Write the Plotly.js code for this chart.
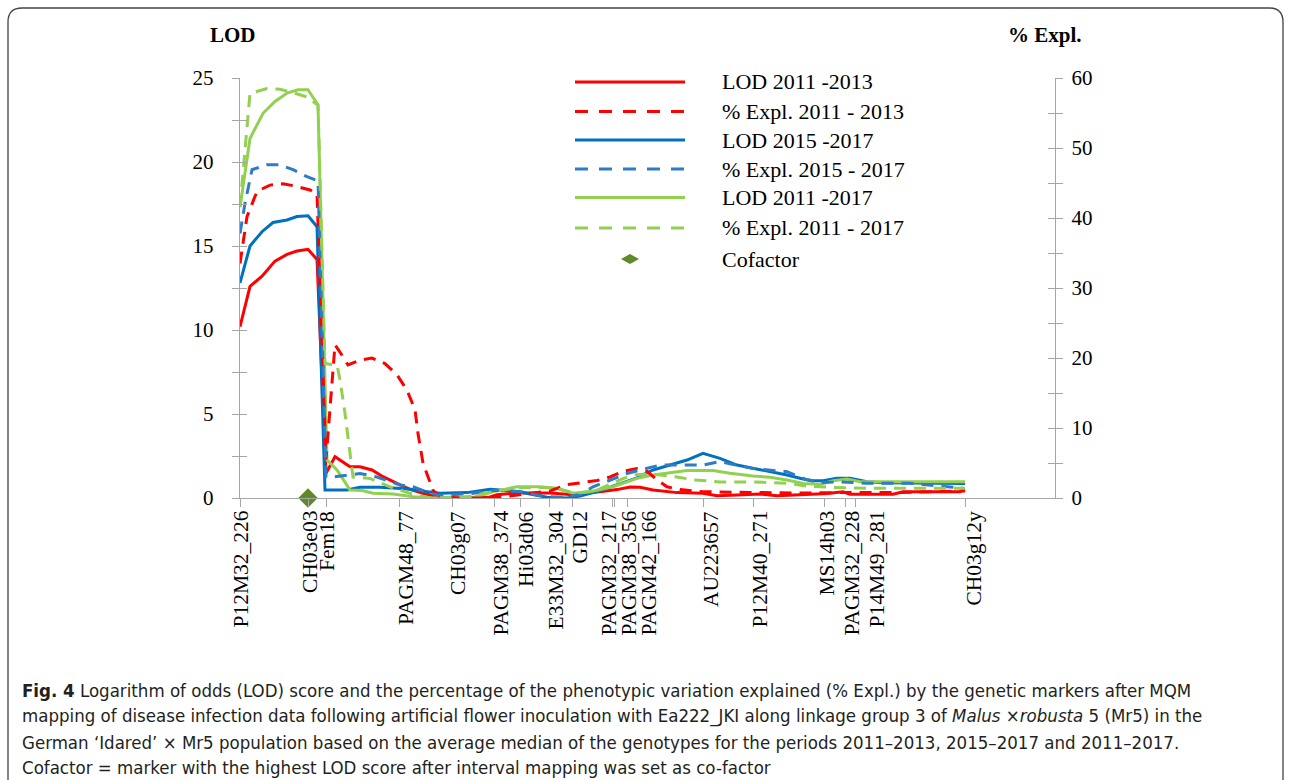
<!DOCTYPE html>
<html>
<head>
<meta charset="utf-8">
<script src="https://cdn.plot.ly/plotly-3.0.1.min.js"></script>
<style>
  html, body { margin: 0; padding: 0; background: #ffffff; }
  #chart { width: 1290px; height: 780px; }
</style>
</head>
<body>
<div id="chart"></div>
<script>
// ---------------- DATA ----------------
// Marker names and their map positions (arbitrary map units along linkage group 3)
const markerNames = ['P12M32_226','CH03e03','Fem18','PAGM48_77','CH03g07','PAGM38_374','Hi03d06',
  'E33M32_304','GD12','PAGM32_217','PAGM38_356','PAGM42_166','AU223657','P12M40_271',
  'MS14h03','PAGM32_228','P14M49_281','CH03g12y'];
const markerPos = [0, 6.8, 8.6, 15.9, 21.2, 25.4, 28.0, 30.9, 33.2, 37.2, 37.4, 38.7, 46.3, 51.3,
  58.4, 60.5, 61.5, 72.5];

// LOD 2011-2013
const lod1113X = [0,1.0,2.2,3.5,4.7,5.7,6.8,7.7,8.6,9.5,11.0,12.0,13.2,14.3,15.7,17.0,18.3,19.7,20.7,22.6,
  25.0,25.7,27.7,29.7,31.0,33.3,34.3,36.0,37.7,39.0,40.0,41.3,43.7,46.3,47.7,49.7,52.0,53.7,56.3,57.7,
  58.7,60.3,61.0,65.3,66.3,72.0,72.5];
const lod1113Y = [10.2,12.6,13.2,14.1,14.5,14.7,14.8,14.2,1.47,2.46,1.86,1.86,1.67,1.27,0.87,0.52,0.28,0.08,0,0,
  0.06,0.2,0.3,0.32,0.3,0.2,0.3,0.37,0.5,0.65,0.64,0.48,0.32,0.28,0.14,0.18,0.24,0.14,0.18,0.24,
  0.27,0.37,0.22,0.22,0.37,0.37,0.52];

// % Expl. 2011-2013
const expl1113X = [0,0.7,1.7,3.0,4.3,5.7,7.0,7.7,8.6,9.5,10.2,10.8,12.0,13.2,14.5,15.7,16.7,17.5,17.8,18.3,
  19.3,20.0,22.0,25.0,27.0,29.0,31.0,32.7,34.0,35.7,37.0,38.3,39.7,40.7,41.7,42.7,44.0,46.3,51.0,56.0,
  61.0,66.0,72.5];
const expl1113Y = [33.5,40.2,43.8,44.7,44.9,44.5,44.0,43.5,5.5,21.9,20.4,19.0,19.7,20.0,19.2,17.6,15.4,12.6,9.2,5.0,
  1.1,0.2,0,0,0.3,0.6,1.0,1.9,2.2,2.5,3.0,3.8,4.2,3.8,2.6,1.6,1.2,0.9,0.8,0.7,
  0.8,0.8,1.0];

// LOD 2015-2017
const lod1517X = [0,1.0,2.2,3.3,4.7,5.7,6.8,7.7,8.5,10.7,12.0,14.0,15.7,17.0,18.7,20.0,22.7,25.0,27.0,28.0,
  29.0,30.7,32.7,34.0,36.0,38.0,39.7,41.3,43.0,44.7,46.3,48.0,49.7,51.3,53.0,54.7,56.3,57.3,58.3,59.7,
  61.0,62.7,64.3,69.3,72.5];
const lod1517Y = [12.8,15.0,15.85,16.4,16.55,16.75,16.8,16.15,0.48,0.48,0.64,0.64,0.58,0.52,0.38,0.28,0.32,0.52,0.43,0.37,
  0.24,0.04,0,0.12,0.43,0.85,1.2,1.67,1.96,2.26,2.66,2.36,1.96,1.77,1.57,1.37,1.13,1.03,1.03,1.17,
  1.17,0.97,0.91,0.91,0.87];

// % Expl. 2015-2017
const expl1517X = [0,0.5,1.2,2.7,4.0,5.3,6.7,7.8,8.6,9.2,12.0,13.7,16.0,17.3,19.0,20.0,23.0,25.5,28.0,30.5,
  32.5,34.0,35.3,37.7,38.7,40.0,42.0,44.7,46.3,48.0,49.7,51.3,54.7,56.7,58.0,60.0,62.7,67.0,72.3];
const expl1517Y = [37.8,42.1,46.9,47.6,47.6,46.9,45.9,45.3,3.0,3.0,3.5,3.0,1.86,1.6,0.67,0.4,0.6,1.1,0.9,0.2,
  0.1,0.5,1.6,3.0,3.5,4.0,4.7,4.7,4.7,5.2,4.7,4.2,3.76,2.6,2.2,2.3,2.1,2.1,1.4];

// LOD 2011-2017
const lod1117X = [0,1.0,2.3,3.5,4.7,5.8,6.8,7.8,8.7,9.7,11.0,12.2,13.3,15.3,17.3,19.3,23.3,25.3,27.7,30.0,
  31.7,33.3,35.0,37.3,39.7,41.3,43.0,44.7,47.3,49.0,51.3,53.0,54.7,56.3,58.0,59.3,60.7,62.0,72.5];
const lod1117Y = [17.3,21.4,22.9,23.6,24.1,24.3,24.3,23.4,2.26,1.67,0.48,0.44,0.28,0.24,0.08,0,0.04,0.37,0.67,0.67,
  0.58,0.28,0.37,0.67,1.17,1.37,1.5,1.63,1.63,1.47,1.31,1.23,1.07,0.87,0.8,1.03,1.13,0.97,0.97];

// % Expl. 2011-2017
const expl1117X = [0,0.5,1.0,2.7,4.0,5.3,6.7,7.8,8.5,9.7,10.0,10.5,11.0,11.3,13.0,15.0,17.0,19.0,23.0,25.5,
  28.0,30.5,32.0,33.5,35.5,37.0,38.0,39.3,40.7,42.0,43.7,45.3,48.0,51.3,54.7,56.7,58.0,59.3,62.7,72.5];
const expl1117Y = [41.6,49.7,57.8,58.5,58.4,57.9,57.3,56.1,19.2,19.0,16.9,12.1,5.9,3.0,2.8,1.6,0.67,0,0.2,1.0,
  1.5,1.5,1.2,0.7,1.0,2.0,2.6,3.3,3.4,3.3,3.0,2.6,2.3,2.3,2.1,1.7,1.6,1.5,1.4,1.4];

// Cofactor marker
const cofactorMarker = ['CH03e03'];
const cofactorLOD = [0];

const lodTicks = [0,2.5,5,7.5,10,12.5,15,17.5,20,22.5,25];
const explTicks = [0,5,10,15,20,25,30,35,40,45,50,55,60];

const seriesNames = ['LOD 2011 -2013','% Expl. 2011 - 2013','LOD 2015 -2017','% Expl. 2015 - 2017',
  'LOD 2011 -2017','% Expl. 2011 - 2017','Cofactor'];

// ---------------- STYLE / LAYOUT ----------------
const RED = '#ff0000', BLUE = '#0070c0', BLUED = '#2f7cc4', GREEN = '#92d050', OLIVE = '#5f8a27';
const AX = '#a6a6a6';
const SERIF = '"Liberation Serif", "Times New Roman", serif';
const DASH = '12px,8px';

// plot area in pixels
const PL = 240, PR = 1055, PT = 78, PB = 498;
const px = x => (x - PL) / (PR - PL);
const py = y => (PB - y) / (PB - PT);
const P = (x, y) => px(x).toFixed(5) + ',' + py(y).toFixed(5);

const labelShift = [0,2,1,7,6,6,6,6,7,-4,14,21,8,6,2,6,21,8];

function line(x, y, name, color, dash, axis) {
  return { x: x, y: y, name: name, type: 'scatter', mode: 'lines', yaxis: axis, cliponaxis: false,
    showlegend: false, hoverinfo: 'skip',
    line: { color: color, width: 3, dash: dash } };
}

const cofX = cofactorMarker.map(m => markerPos[markerNames.indexOf(m)]);

const traces = [
  line(lod1113X, lod1113Y, seriesNames[0], RED, 'solid', 'y'),
  line(expl1113X, expl1113Y, seriesNames[1], RED, DASH, 'y2'),
  line(lod1517X, lod1517Y, seriesNames[2], BLUE, 'solid', 'y'),
  line(expl1517X, expl1517Y, seriesNames[3], BLUED, DASH, 'y2'),
  line(lod1117X, lod1117Y, seriesNames[4], GREEN, 'solid', 'y'),
  line(expl1117X, expl1117Y, seriesNames[5], GREEN, DASH, 'y2'),
  { x: cofX, y: cofactorLOD, name: seriesNames[6], type: 'scatter', mode: 'markers', yaxis: 'y',
    cliponaxis: false, showlegend: false, hoverinfo: 'skip',
    marker: { symbol: 'diamond', size: 15, color: OLIVE, line: { width: 0 } } },
  // empty helpers so the cross-tick overlay axes are drawn
  { x: [null], y: [null], yaxis: 'y3', type: 'scatter', mode: 'lines', showlegend: false, hoverinfo: 'skip' },
  { x: [null], y: [null], yaxis: 'y4', type: 'scatter', mode: 'lines', showlegend: false, hoverinfo: 'skip' }
];

const annotations = [];
const shapes = [];

// marker labels (rotated)
markerNames.forEach((n, i) => {
  annotations.push({ text: n, x: markerPos[i], y: py(509), xref: 'x', yref: 'paper',
    xanchor: 'center', yanchor: 'top', textangle: -90, showarrow: false, xshift: labelShift[i],
    font: { family: SERIF, size: 21.5, color: '#000' } });
});

// axis headers
annotations.push({ text: '<b>LOD</b>', x: px(233), y: py(35), xref: 'paper', yref: 'paper',
  xanchor: 'center', yanchor: 'middle', showarrow: false, font: { family: SERIF, size: 21, color: '#000' } });
annotations.push({ text: '<b>% Expl.</b>', x: px(1045), y: py(35), xref: 'paper', yref: 'paper',
  xanchor: 'center', yanchor: 'middle', showarrow: false, font: { family: SERIF, size: 21, color: '#000' } });

// custom legend
const legY = [82, 111.5, 140, 169, 197.5, 228, 259];
const legColors = [RED, RED, BLUE, BLUED, GREEN, GREEN];
const legDash = ['solid', 'dash', 'solid', 'dash', 'solid', 'dash'];
for (let i = 0; i < 6; i++) {
  shapes.push({ type: 'line', xref: 'paper', yref: 'paper', x0: px(575), x1: px(685), y0: py(legY[i]), y1: py(legY[i]),
    line: { color: legColors[i], width: 3, dash: legDash[i] === 'dash' ? '13px,11px' : 'solid' } });
}
shapes.push({ type: 'path', xref: 'paper', yref: 'paper', fillcolor: OLIVE, line: { width: 0 },
  path: `M ${P(621, legY[6])} L ${P(630, legY[6] - 5)} L ${P(639, legY[6])} L ${P(630, legY[6] + 5)} Z` });
seriesNames.forEach((n, i) => {
  annotations.push({ text: n, x: px(720), y: py(legY[i]), xref: 'paper', yref: 'paper', xanchor: 'left',
    yanchor: 'middle', showarrow: false, font: { family: SERIF, size: 22, color: '#000' } });
});

// border
shapes.push({ type: 'path', xref: 'paper', yref: 'paper', layer: 'below', line: { color: '#444', width: 1.3 },
  path: `M ${P(8, 800)} L ${P(8, 22)} Q ${P(8, 8)} ${P(22, 8)} L ${P(1269, 8)} Q ${P(1283, 8)} ${P(1283, 22)} L ${P(1283, 800)}` });

// caption
const CAP = '"DejaVu Sans Condensed", "DejaVu Sans", sans-serif';
const capLines = [
  '<b>Fig. 4</b> Logarithm of odds (LOD) score and the percentage of the phenotypic variation explained (% Expl.) by the genetic markers after MQM',
  'mapping of disease infection data following artificial flower inoculation with Ea222_JKI along linkage group 3 of <i>Malus</i> ×<i>robusta</i> 5 (Mr5) in the',
  'German ‘Idared’ × Mr5 population based on the average median of the genotypes for the periods 2011–2013, 2015–2017 and 2011–2017.',
  'Cofactor = marker with the highest LOD score after interval mapping was set as co-factor'
];
const capY = [690, 716, 742, 767];
capLines.forEach((t, i) => {
  annotations.push({ text: t, x: px(20), y: py(capY[i]), xref: 'paper', yref: 'paper', xanchor: 'left',
    yanchor: 'middle', showarrow: false, font: { family: CAP, size: 18.5, color: '#231f20' } });
});

const layout = {
  width: 1290, height: 780,
  margin: { l: PL, r: 1290 - PR, t: PT, b: 780 - PB, pad: 0 },
  paper_bgcolor: '#ffffff', plot_bgcolor: '#ffffff',
  font: { family: SERIF, size: 21, color: '#000' },
  showlegend: false,
  xaxis: { range: [0, 81.5], showgrid: false, zeroline: false, showline: true, linecolor: AX, linewidth: 1.3,
    ticks: 'outside', ticklen: 8, tickcolor: AX, tickwidth: 1, tickvals: markerPos, showticklabels: false, fixedrange: true },
  yaxis: { range: [0, 25], showgrid: false, zeroline: false, showline: true, linecolor: AX, linewidth: 1.3,
    ticks: 'outside', ticklen: 7, tickcolor: AX, tickwidth: 1, tickvals: lodTicks,
    ticktext: lodTicks.map(v => v % 5 === 0 ? String(v) : ''), ticklabelstandoff: 14,
    tickfont: { family: SERIF, size: 21, color: '#000' } },
  yaxis2: { range: [0, 60], overlaying: 'y', side: 'right', showgrid: false, zeroline: false, showline: true,
    linecolor: AX, linewidth: 1.3, ticks: 'outside', ticklen: 7, tickcolor: AX, tickwidth: 1, tickvals: explTicks,
    ticktext: explTicks.map(v => v % 10 === 0 ? String(v) : ''), ticklabelstandoff: 4,
    tickfont: { family: SERIF, size: 21, color: '#000' } },
  yaxis3: { range: [0, 25], overlaying: 'y', side: 'left', showgrid: false, zeroline: false, showline: false,
    ticks: 'inside', ticklen: 7, tickcolor: AX, tickwidth: 1, tickvals: lodTicks, showticklabels: false },
  yaxis4: { range: [0, 60], overlaying: 'y', side: 'right', showgrid: false, zeroline: false, showline: false,
    ticks: 'inside', ticklen: 7, tickcolor: AX, tickwidth: 1, tickvals: explTicks, showticklabels: false },
  annotations: annotations,
  shapes: shapes
};

Plotly.newPlot('chart', traces, layout, { displayModeBar: false, staticPlot: true });
</script>
</body>
</html>
